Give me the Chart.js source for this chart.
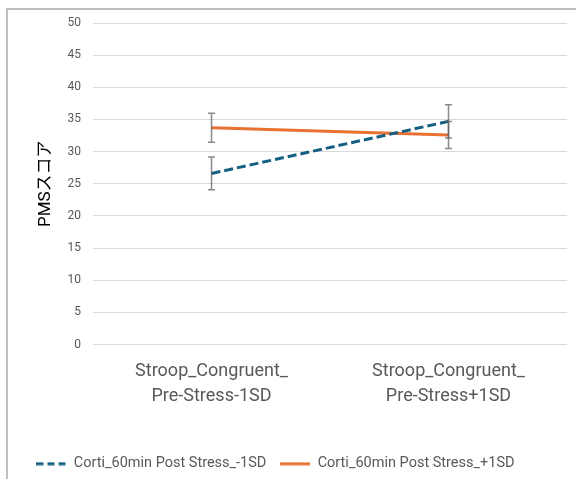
<!DOCTYPE html>
<html>
<head>
<meta charset="utf-8">
<script src="https://cdn.jsdelivr.net/npm/chart.js@4"></script>
<style>
  html, body { margin: 0; padding: 0; background: #ffffff; }
  #wrap { position: relative; width: 576px; height: 479px; }
</style>
</head>
<body>
<div id="wrap"><canvas id="c"></canvas></div>
<script>
// ---- data ----
const categories = [
  ['Stroop_Congruent_', 'Pre-Stress-1SD'],
  ['Stroop_Congruent_', 'Pre-Stress+1SD']
];
const seriesNames = ['Corti_60min Post Stress_-1SD', 'Corti_60min Post Stress_+1SD'];
const lowCortiValues = [26.6, 34.7];
const highCortiValues = [33.7, 32.6];
const lowCortiErrors = [2.55, 2.6];
const highCortiErrors = [2.25, 2.1];
const yMin = 0, yMax = 50, yStep = 5;
const yTitle = 'PMSスコア';

const errorData = [lowCortiErrors, highCortiErrors];
const seriesColors = ['#156082', '#E97132'];
const seriesDashes = [[9, 4], []];
const legendDashes = [[7, 4], []];

function legendSample(color, dash) {
  const cv = document.createElement('canvas');
  cv.width = 30; cv.height = 4;
  const g = cv.getContext('2d');
  g.strokeStyle = color;
  g.lineWidth = 3;
  g.setLineDash(dash);
  g.beginPath();
  g.moveTo(0, 2); g.lineTo(30, 2);
  g.stroke();
  return cv;
}

const framePlugin = {
  id: 'frame',
  beforeDraw(chart) {
    const ctx = chart.ctx;
    ctx.save();
    ctx.strokeStyle = '#bfbfbf';
    ctx.lineWidth = 2;
    ctx.beginPath();
    ctx.moveTo(7, chart.height);
    ctx.lineTo(7, 9);
    ctx.lineTo(chart.width, 9);
    ctx.stroke();
    ctx.restore();
  }
};

const errorBarPlugin = {
  id: 'errorBars',
  afterDatasetsDraw(chart) {
    const ctx = chart.ctx;
    const xs = chart.scales.x, ys = chart.scales.y;
    ctx.save();
    ctx.strokeStyle = 'rgba(89,89,89,0.7)';
    ctx.lineWidth = 1.5;
    chart.data.datasets.forEach((ds, di) => {
      ds.data.forEach((v, i) => {
        const e = errorData[di][i];
        const x = xs.getPixelForValue(i);
        const yt = ys.getPixelForValue(v + e);
        const yb = ys.getPixelForValue(v - e);
        ctx.beginPath();
        ctx.moveTo(x, yt); ctx.lineTo(x, yb);
        ctx.moveTo(x - 3.5, yt); ctx.lineTo(x + 3.5, yt);
        ctx.moveTo(x - 3.5, yb); ctx.lineTo(x + 3.5, yb);
        ctx.stroke();
      });
    });
    ctx.restore();
  }
};

new Chart(document.getElementById('c'), {
  type: 'line',
  data: {
    labels: categories,
    datasets: [
      {
        label: seriesNames[0],
        data: lowCortiValues,
        borderColor: seriesColors[0],
        backgroundColor: seriesColors[0],
        borderWidth: 3,
        borderDash: seriesDashes[0],
        pointRadius: 0,
        tension: 0
      },
      {
        label: seriesNames[1],
        data: highCortiValues,
        borderColor: seriesColors[1],
        backgroundColor: seriesColors[1],
        borderWidth: 3,
        borderDash: seriesDashes[1],
        pointRadius: 0,
        tension: 0
      }
    ]
  },
  options: {
    responsive: true,
    maintainAspectRatio: false,
    animation: false,
    layout: { padding: { top: 23, right: 9, bottom: -2, left: -16 } },
    plugins: {
      tooltip: { enabled: false },
      legend: {
        position: 'bottom',
        labels: {
          usePointStyle: true,
          pointStyleWidth: 30,
          padding: 14,
          color: '#595959',
          font: { family: 'Roboto', size: 14.5 },
          generateLabels(chart) {
            const items = Chart.defaults.plugins.legend.labels.generateLabels(chart);
            items.forEach((it, i) => {
              it.pointStyle = legendSample(seriesColors[i], legendDashes[i]);
            });
            return items;
          }
        }
      }
    },
    scales: {
      x: {
        offset: true,
        grid: { display: false, drawTicks: false },
        border: { display: false },
        ticks: {
          color: '#595959',
          padding: 14,
          maxRotation: 0,
          font: { family: 'Roboto', size: 18, lineHeight: '25px' }
        },
        afterFit(s) { s.height = 98; }
      },
      y: {
        min: yMin,
        max: yMax,
        ticks: {
          stepSize: yStep,
          color: '#595959',
          padding: 12,
          font: { family: 'Roboto', size: 12 }
        },
        grid: { color: '#d9d9d9', lineWidth: 1, drawTicks: false },
        border: { display: false },
        title: {
          display: true,
          text: yTitle,
          color: '#000000',
          padding: { top: 52, bottom: 0 },
          font: { family: "Roboto, 'Noto Sans CJK JP'", size: 17 }
        },
        afterFit(s) { s.width = 109; }
      }
    }
  },
  plugins: [framePlugin, errorBarPlugin]
});
</script>
</body>
</html>
